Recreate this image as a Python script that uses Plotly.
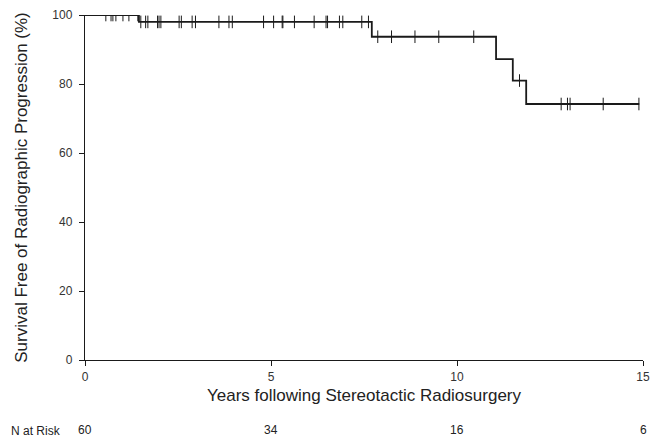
import plotly.graph_objects as go

# Kaplan-Meier step data (years, % free of radiographic progression)
event_times = [0.0, 1.45, 7.71, 11.05, 11.50, 11.86, 14.90]
survival = [100.0, 98.0, 93.7, 87.2, 81.0, 74.2, 74.2]

# Censored observations (years)
censor_times = [0.56, 0.70, 0.75, 0.83, 1.02, 1.18, 1.42,
                1.50, 1.63, 1.69, 1.95, 1.99, 2.04, 2.53, 2.59, 2.88, 2.97,
                3.60, 3.87, 3.96, 4.80, 5.07, 5.30, 5.32, 5.63, 6.16, 6.48,
                6.52, 6.84, 6.93, 7.44, 7.62, 7.87, 8.24, 8.87, 9.51, 10.45,
                11.68, 12.80, 12.97, 13.04, 13.93, 14.89]

# Number at risk
risk_years = [0, 5, 10, 15]
risk_counts = [60, 34, 16, 6]

x_ticks = [0, 5, 10, 15]
y_ticks = [0, 20, 40, 60, 80, 100]


def surv_at(t):
    s = survival[0]
    for et, sv in zip(event_times, survival):
        if t >= et:
            s = sv
    return s


censor_y = [surv_at(t) for t in censor_times]

FONT = "Liberation Sans, Arial, sans-serif"

fig = go.Figure()
fig.add_trace(go.Scatter(
    x=event_times, y=survival, mode="lines", line_shape="hv",
    line=dict(color="#1a1a1a", width=1.8), showlegend=False, hoverinfo="skip"))
fig.add_trace(go.Scatter(
    x=censor_times, y=censor_y, mode="markers",
    marker=dict(symbol="line-ns", size=9, line=dict(color="#1a1a1a", width=1)),
    showlegend=False))

annotations = [dict(text="N at Risk", x=-0.136, xref="paper", y=-0.206, yref="paper",
                    xanchor="left", yanchor="middle", showarrow=False,
                    font=dict(family=FONT, size=12, color="#222"))]
for yr, n in zip(risk_years, risk_counts):
    annotations.append(dict(text=str(n), x=yr, xref="x", y=-0.203, yref="paper",
                            xanchor="center", yanchor="middle", showarrow=False,
                            font=dict(family=FONT, size=12, color="#222")))

fig.update_layout(
    width=662, height=437, autosize=False,
    margin=dict(l=85, r=19, t=15, b=77),
    plot_bgcolor="white", paper_bgcolor="white",
    font=dict(family=FONT, size=12, color="#222"),
    annotations=annotations,
    xaxis=dict(range=[0, 15], tickvals=x_ticks, showline=True, linecolor="#1a1a1a",
               linewidth=1.4, ticks="outside", ticklen=5, tickcolor="#1a1a1a",
               showgrid=False, zeroline=False, automargin=False,
               tickfont=dict(family=FONT, size=12, color="#333"),
               title=dict(text="Years following Stereotactic Radiosurgery",
                          font=dict(family=FONT, size=17, color="#222"), standoff=6)),
    yaxis=dict(range=[0, 100], tickvals=y_ticks, showline=True, linecolor="#1a1a1a",
               linewidth=1.4, ticks="outside", ticklen=5, tickcolor="#1a1a1a",
               showgrid=False, zeroline=False, ticklabelstandoff=4, automargin=False,
               tickfont=dict(family=FONT, size=12, color="#333"),
               title=dict(text="Survival Free of Radiographic Progression (%)",
                          font=dict(family=FONT, size=17, color="#222"), standoff=20)),
)

fig.write_html("out.html", config={"displayModeBar": False},
               post_script="document.body.style.margin='0';")
